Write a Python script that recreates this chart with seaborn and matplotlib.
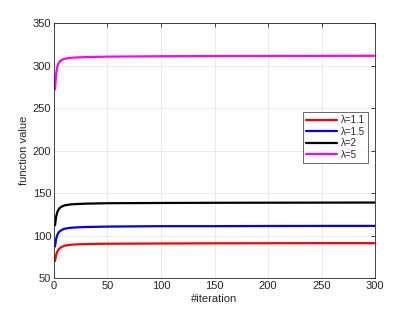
import numpy as np
import pandas as pd
import matplotlib
matplotlib.use("Agg")
import matplotlib.pyplot as plt
import seaborn as sns

iters = [1, 2, 3, 4, 5, 6, 8, 10, 15, 20, 30, 50, 100, 150, 200, 250, 300]

f_11 = [70, 77, 80.5, 83, 84.5, 85.5, 87, 88, 89, 89.5, 90, 90.3, 90.6, 90.8, 90.9, 91, 91]
f_15 = [87, 96, 100, 103, 104.5, 105.5, 107, 108, 109, 109.5, 110, 110.5, 111, 111, 111.2, 111.3, 111.3]
f_2 = [112, 122, 127, 130, 132, 133, 134.5, 135.5, 136.5, 137, 137.5, 138, 138.3, 138.5, 138.6, 138.7, 138.8]
f_5 = [272, 290, 298, 302, 304, 305.5, 307, 308, 309, 309.5, 310, 310.5, 311, 311.2, 311.3, 311.4, 311.5]

labels = ["λ=1.1", "λ=1.5", "λ=2", "λ=5"]
colors = ["#ff0000", "#0000ff", "#000000", "#ff00ff"]

sns.set_style("whitegrid")
plt.rcParams['font.family'] = ['Liberation Sans', 'DejaVu Sans']

fig = plt.figure(figsize=(4.15, 3.12), dpi=100)
ax = fig.add_axes([0.130, 0.109, 0.774, 0.817])

for vals, lab, c in zip([f_11, f_15, f_2, f_5], labels, colors):
    df = pd.DataFrame({"iteration": iters, "value": vals})
    sns.lineplot(data=df, x="iteration", y="value", ax=ax, color=c, linewidth=1.6, label=lab)

ax.set_xlim(0, 300)
ax.set_ylim(50, 350)
ax.set_xticks(range(0, 301, 50))
ax.set_yticks(range(50, 351, 50))
ax.set_xlabel("#iteration", fontsize=8, color="#262626", labelpad=2)
ax.set_ylabel("function value", fontsize=8, color="#262626", labelpad=3)
ax.grid(True, color="#e6e6e6", linewidth=0.6)
ax.tick_params(direction="in", length=3, width=0.6, labelsize=8, colors="#262626",
               top=True, right=True, pad=2)
for s in ax.spines.values():
    s.set_visible(True)
    s.set_color("#262626")
    s.set_linewidth(0.6)

leg = ax.legend(loc="upper left", bbox_to_anchor=(0.776, 0.65), fontsize=7,
                frameon=True, fancybox=False, handlelength=3.2, borderpad=0.3,
                labelspacing=0.15, handletextpad=0.4, borderaxespad=0)
leg.get_frame().set_edgecolor("#262626")
leg.get_frame().set_linewidth(0.6)

fig.savefig("out.png", dpi=100)
